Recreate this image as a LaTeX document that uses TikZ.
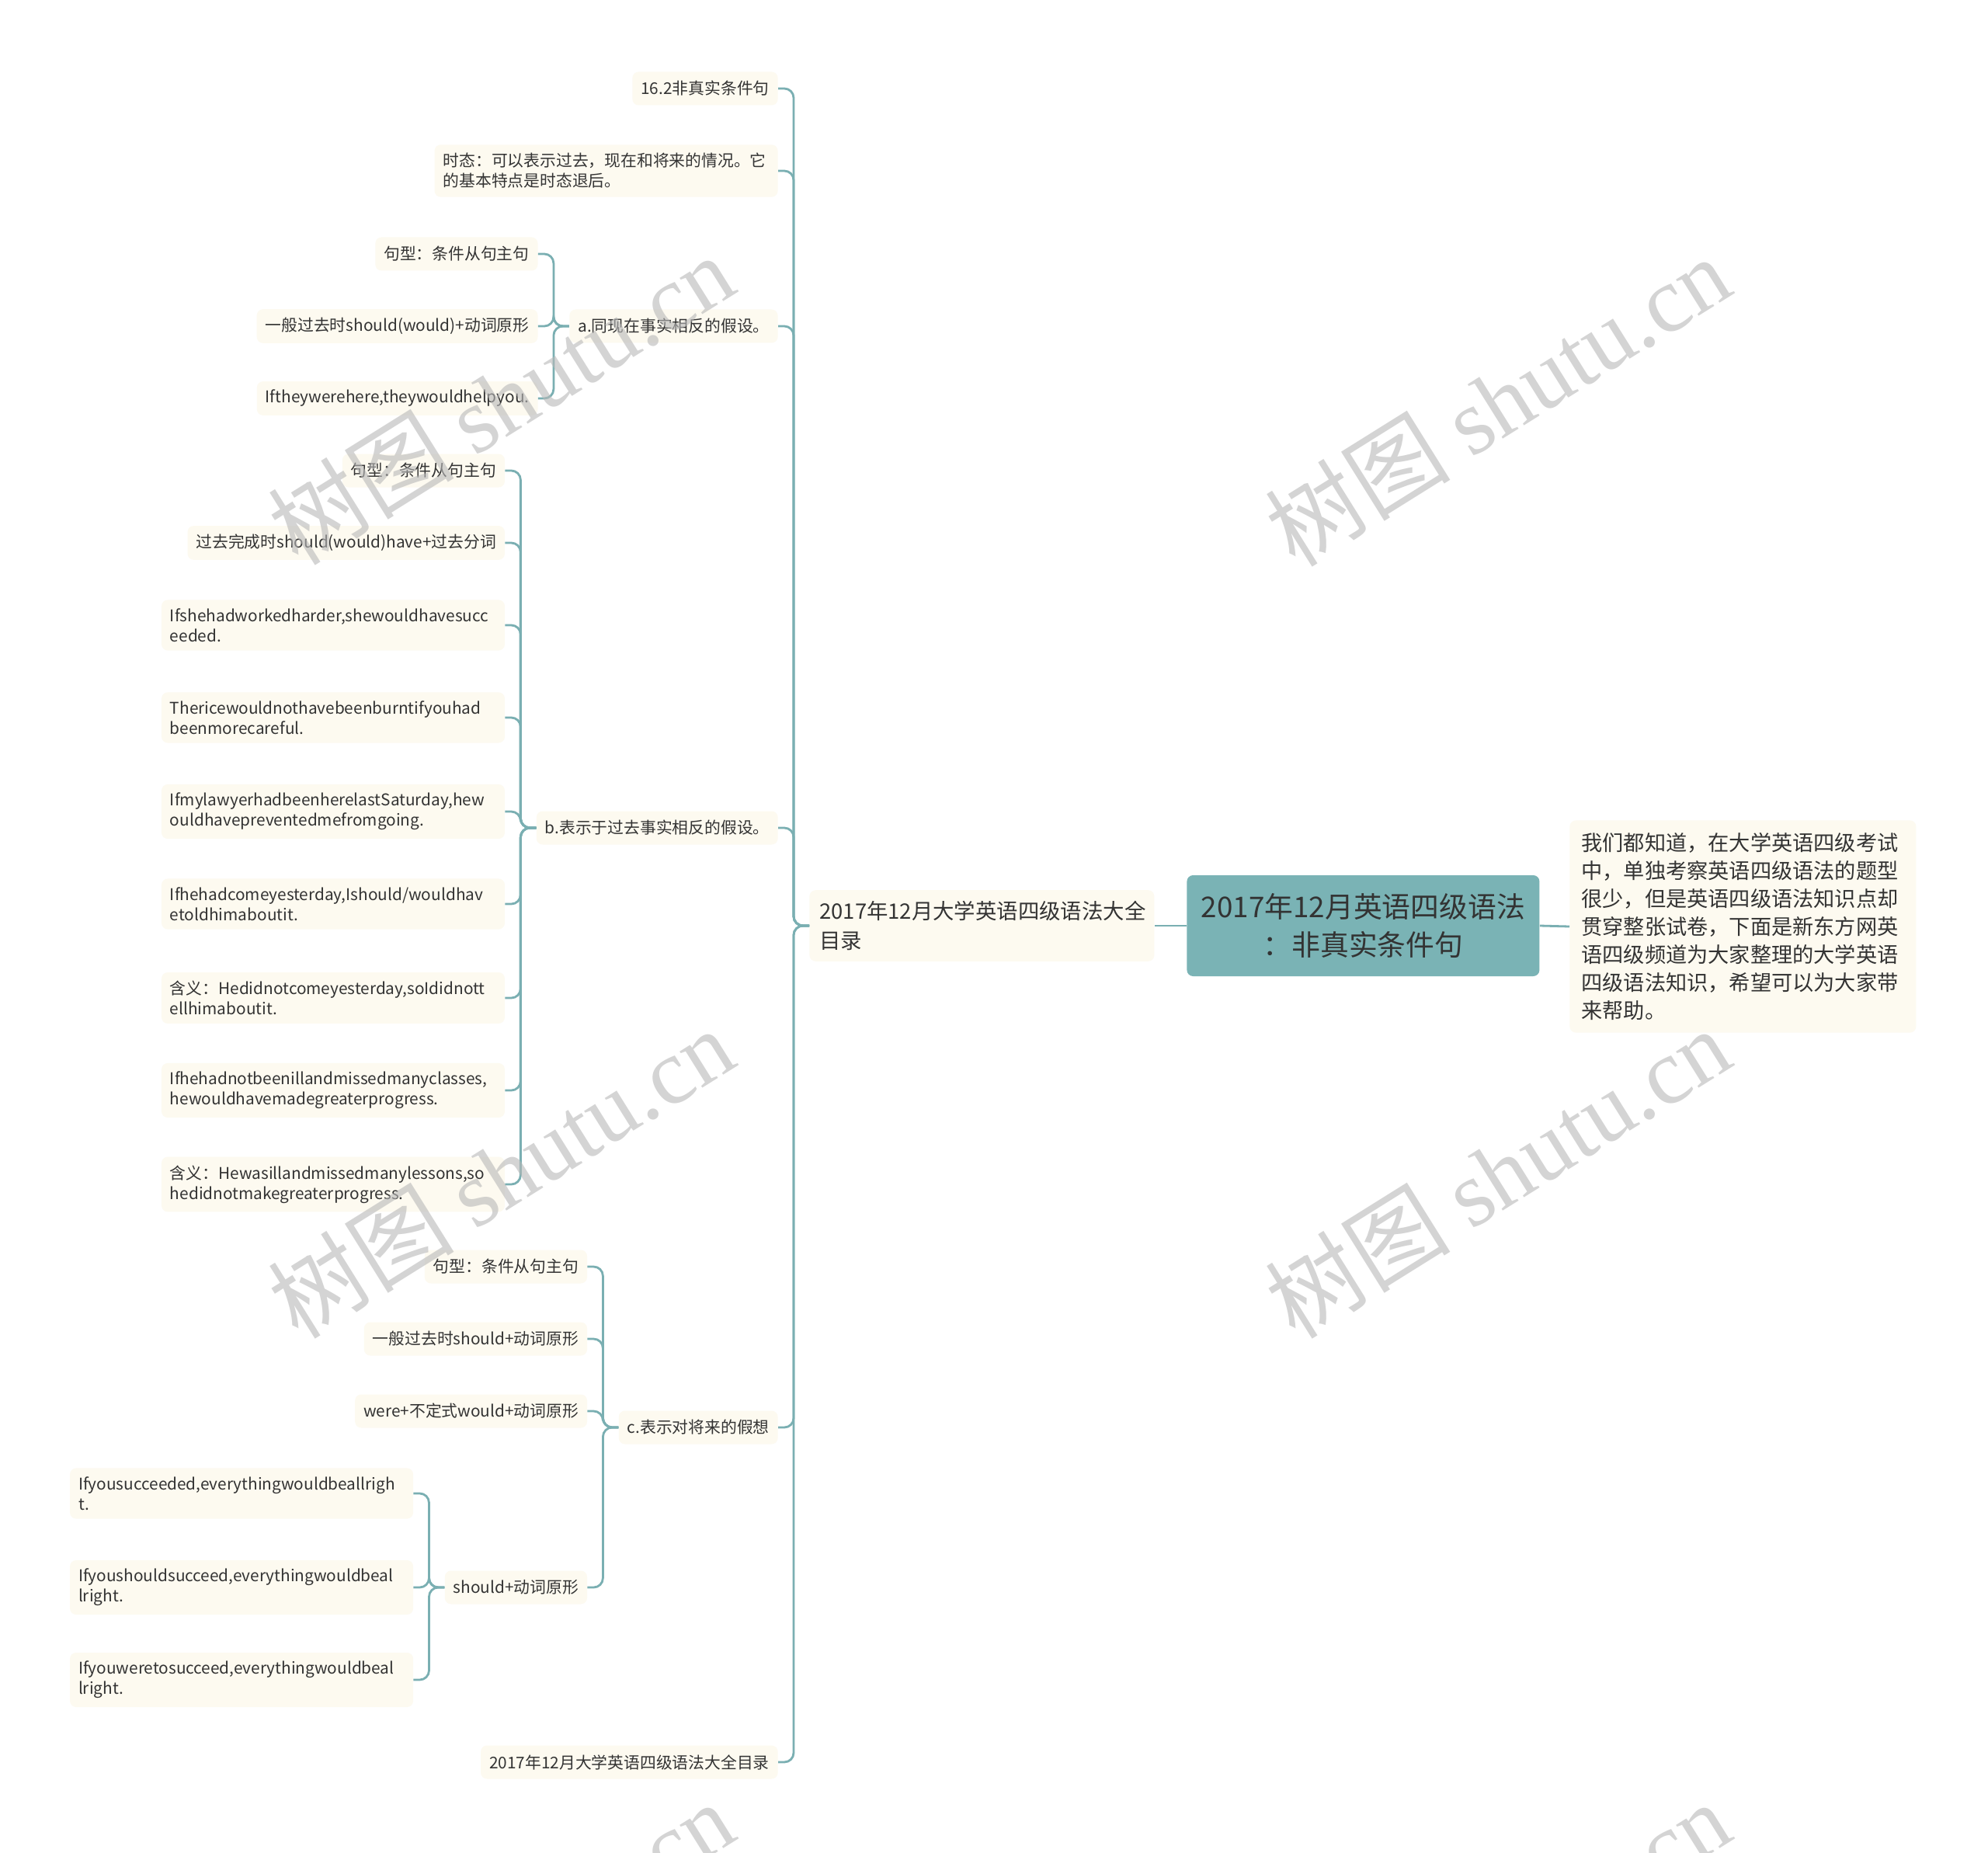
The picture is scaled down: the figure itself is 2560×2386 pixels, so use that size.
\documentclass[tikz,border=0pt]{standalone}
\usepackage{fontspec}
\setmainfont{Noto Sans CJK SC}
\newfontfamily\wmserif{Liberation Serif}
\usetikzlibrary{calc}
\definecolor{lc}{RGB}{122,175,178}
\definecolor{cream}{RGB}{253,250,240}
\definecolor{rootc}{RGB}{122,179,181}
\definecolor{txt}{RGB}{51,51,51}
\begin{document}
\begin{tikzpicture}[x=0.5pt,y=-0.5pt,
  box/.style={fill=cream, rounded corners=4pt, inner xsep=5.5pt, inner ysep=5.5pt, text=txt,
    font=\fontsize{10.4}{13}\selectfont, align=left, anchor=east, minimum height=21.5pt},
  wbox/.style={box, text width=210pt},
  conn/.style={draw=lc, line width=1.4pt, rounded corners=6pt},
  wm/.style={text=black!28, opacity=0.6, font=\fontsize{60}{60}\selectfont, rotate=32, inner sep=0pt}]
\fill[white] (0,0) rectangle (2560,2386);
\useasboundingbox (0,0) rectangle (2560,2386);

% central nodes
\node[fill=rootc, rounded corners=4pt, text=txt, align=center, minimum width=227pt, minimum height=65pt,
  font=\fontsize{18.4}{24.5}\selectfont, anchor=west] (root) at (1528,1192)
  {2017年12月英语四级语法\\：非真实条件句};
\node[fill=cream, rounded corners=4pt, text=txt, align=left, text width=209pt, inner xsep=6.5pt, inner ysep=7pt,
  font=\fontsize{13.7}{19}\selectfont, anchor=west] (ctr) at (1042,1192)
  {2017年12月大学英语四级语法大全\\目录};
\node[fill=cream, rounded corners=4pt, text=txt, align=left, text width=208pt, inner xsep=7.5pt, inner ysep=8pt,
  font=\fontsize{13.6}{18}\selectfont, anchor=west] (desc) at (2021,1193)
  {我们都知道，在大学英语四级考试\\中，单独考察英语四级语法的题型\\很少，但是英语四级语法知识点却\\贯穿整张试卷，下面是新东方网英\\语四级频道为大家整理的大学英语\\四级语法知识，希望可以为大家带\\来帮助。};

% level 1
\node[box] (n1) at (1002,114) {16.2非真实条件句};
\node[wbox] (n2) at (1002,220) {时态：可以表示过去，现在和将来的情况。它\\的基本特点是时态退后。};
\node[box] (a) at (1002,420) {a.同现在事实相反的假设。};
\node[box] (b) at (1002,1066) {b.表示于过去事实相反的假设。};
\node[box] (c) at (1002,1838) {c.表示对将来的假想};
\node[box] (n6) at (1002,2269) {2017年12月大学英语四级语法大全目录};

% a children
\coordinate (aX) at ($(a.west)+(-40,0)$);
\node[box] (a1) at (aX |- 0,327) {句型：条件从句主句};
\node[box] (a2) at (aX |- 0,420) {一般过去时should(would)+动词原形};
\node[box] (a3) at (aX |- 0,513) {Iftheywerehere,theywouldhelpyou.};

% b children
\coordinate (bX) at ($(b.west)+(-40,0)$);
\node[box] (b1) at (bX |- 0,606) {句型：条件从句主句};
\node[box] (b2) at (bX |- 0,699) {过去完成时should(would)have+过去分词};
\node[wbox] (b3) at (bX |- 0,805) {Ifshehadworkedharder,shewouldhavesucc\\eeded.};
\node[wbox] (b4) at (bX |- 0,924) {Thericewouldnothavebeenburntifyouhad\\beenmorecareful.};
\node[wbox] (b5) at (bX |- 0,1045) {IfmylawyerhadbeenherelastSaturday,hew\\ouldhavepreventedmefromgoing.};
\node[wbox] (b6) at (bX |- 0,1164) {Ifhehadcomeyesterday,Ishould/wouldhav\\etoldhimaboutit.};
\node[wbox] (b7) at (bX |- 0,1285) {含义：Hedidnotcomeyesterday,soIdidnott\\ellhimaboutit.};
\node[wbox] (b8) at (bX |- 0,1404) {Ifhehadnotbeenillandmissedmanyclasses,\\hewouldhavemadegreaterprogress.};
\node[wbox] (b9) at (bX |- 0,1525) {含义：Hewasillandmissedmanylessons,so\\hedidnotmakegreaterprogress.};

% c children
\coordinate (cX) at ($(c.west)+(-40,0)$);
\node[box] (c1) at (cX |- 0,1631) {句型：条件从句主句};
\node[box] (c2) at (cX |- 0,1724) {一般过去时should+动词原形};
\node[box] (c3) at (cX |- 0,1817) {were+不定式would+动词原形};
\node[box] (c4) at (cX |- 0,2044) {should+动词原形};

% should children
\coordinate (dX) at ($(c4.west)+(-40,0)$);
\node[wbox] (d1) at (dX |- 0,1923) {Ifyousucceeded,everythingwouldbeallrigh\\t.};
\node[wbox] (d2) at (dX |- 0,2044) {Ifyoushouldsucceed,everythingwouldbeal\\lright.};
\node[wbox] (d3) at (dX |- 0,2163) {Ifyouweretosucceed,everythingwouldbeal\\lright.};

% connectors
\draw[conn] (root.west) -- (ctr.east);
\draw[conn] (root.east) -- (desc.west);
\foreach \k in {n1,n2,a,b,c,n6} \draw[conn] (ctr.west) -- ++(-20,0) |- (\k.east);
\foreach \k in {a1,a2,a3} \draw[conn] (a.west) -- ++(-20,0) |- (\k.east);
\foreach \k in {b1,b2,b3,b4,b5,b6,b7,b8,b9} \draw[conn] (b.west) -- ++(-20,0) |- (\k.east);
\foreach \k in {c1,c2,c3,c4} \draw[conn] (c.west) -- ++(-20,0) |- (\k.east);
\foreach \k in {d1,d2,d3} \draw[conn] (c4.west) -- ++(-20,0) |- (\k.east);

% watermarks
\begin{scope}
\clip (0,0) rectangle (2560,2386);
\foreach \wx/\wy [count=\i] in {645/514, 1928/516, 645/1510, 1928/1510, 645/2506, 1928/2506}
  \node[wm] (wm\i) at (\wx,\wy) {树图 {\wmserif shutu.cn}};
\end{scope}
\end{tikzpicture}
\end{document}
